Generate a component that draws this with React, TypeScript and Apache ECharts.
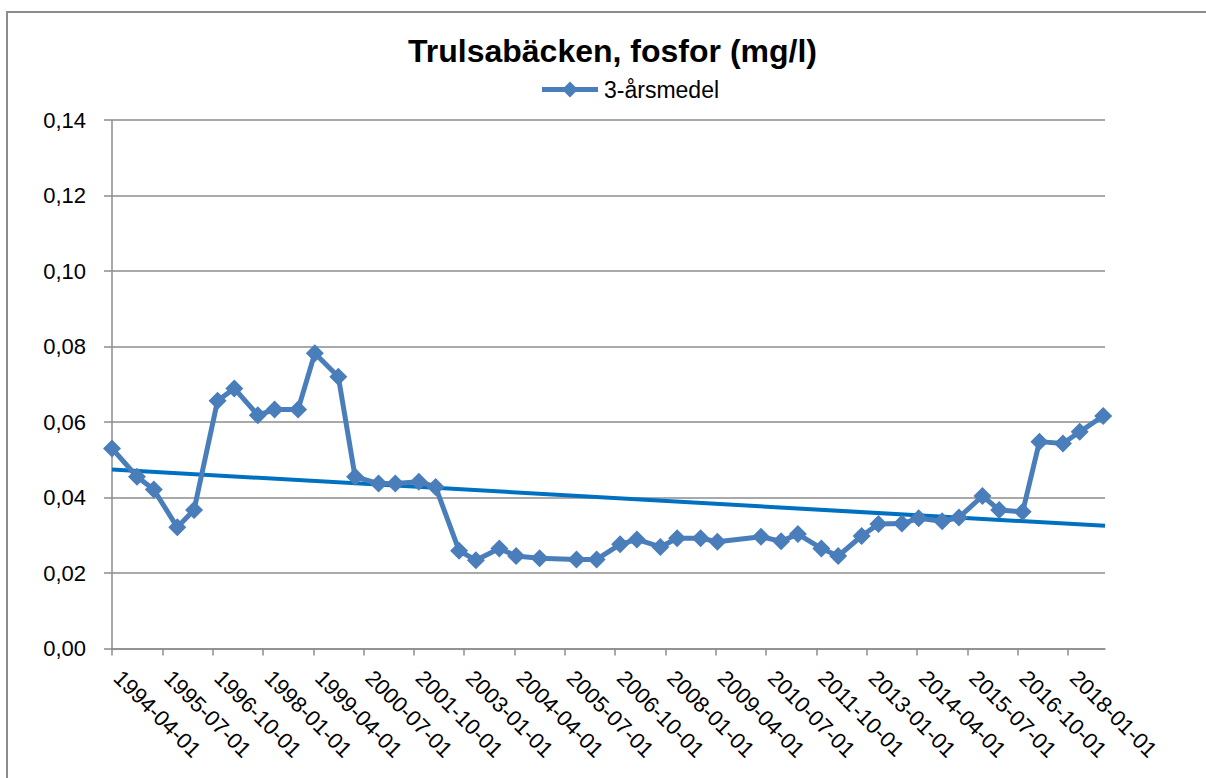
import React, { useEffect, useRef } from "react";
import * as echarts from "echarts";

const titleText = "Trulsabäcken, fosfor (mg/l)";
const seriesName = "3-årsmedel";

const sampleDates = [
  "1994-04-01", "1994-11-15", "1995-04-15", "1995-11-15", "1996-04-15", "1996-11-15",
  "1997-04-15", "1997-11-15", "1998-04-15", "1998-11-15", "1999-04-15", "1999-11-15",
  "2000-04-15", "2000-11-15", "2001-04-15", "2001-11-15", "2002-04-15", "2002-11-15",
  "2003-04-15", "2003-11-15", "2004-04-15", "2004-11-15", "2005-10-15", "2006-04-15",
  "2006-11-15", "2007-04-15", "2007-11-15", "2008-04-15", "2008-11-15", "2009-04-15",
  "2010-05-15", "2010-11-15", "2011-04-15", "2011-11-15", "2012-04-15", "2012-11-15",
  "2013-04-15", "2013-11-15", "2014-04-15", "2014-11-15", "2015-04-15", "2015-11-15",
  "2016-04-15", "2016-11-15", "2017-04-15", "2017-11-15", "2018-04-15", "2018-11-15",
];

const phosphorus = [
  0.053, 0.0455, 0.0421, 0.0321, 0.0367, 0.0656,
  0.0689, 0.0618, 0.0633, 0.0633, 0.0782, 0.072,
  0.0455, 0.0437, 0.0437, 0.0442, 0.0428, 0.0259,
  0.0234, 0.0265, 0.0245, 0.0239, 0.0236, 0.0236,
  0.0276, 0.0289, 0.0269, 0.0292, 0.0292, 0.0283,
  0.0296, 0.0284, 0.0303, 0.0265, 0.0245, 0.0298,
  0.033, 0.0331, 0.0345, 0.0337, 0.0347, 0.0404,
  0.0367, 0.0362, 0.0548, 0.0543, 0.0574, 0.0616,
];

const tickLabels = [
  "1994-04-01", "1995-07-01", "1996-10-01", "1998-01-01", "1999-04-01",
  "2000-07-01", "2001-10-01", "2003-01-01", "2004-04-01", "2005-07-01",
  "2006-10-01", "2008-01-01", "2009-04-01", "2010-07-01", "2011-10-01",
  "2013-01-01", "2014-04-01", "2015-07-01", "2016-10-01", "2018-01-01",
];

const axisStart = "1994-04-01";
const axisEnd = "2018-12-01";
const trendDates = ["1994-04-01", "2018-12-01"];
const trendValues = [0.0474, 0.0325];

const yMin = 0;
const yMax = 0.14;
const yStep = 0.02;

function monthIndex(d: string): number {
  const [y, m, day] = d.split("-").map(Number);
  const [y0, m0] = axisStart.split("-").map(Number);
  return (y - y0) * 12 + (m - m0) + (day - 1) / 30.4;
}

const FONT = "Liberation Sans, Arial, sans-serif";
const GRAY = "#8c8c8c";
const BLUE = "#4a7ebb";
const LEGEND_ICON =
  "path://M0,5.5 L22.5,5.5 L28,0 L33.5,5.5 L56,5.5 L56,10.5 L33.5,10.5 L28,16 L22.5,10.5 L0,10.5 Z";

export default function App() {
  const ref = useRef<HTMLDivElement>(null);
  useEffect(() => {
    if (!ref.current) return;
    const chart = echarts.init(ref.current, undefined, { renderer: "svg" });
    const tickPos = tickLabels.map(monthIndex);
    const labelFor = (v: number) => {
      let best = 0;
      for (let i = 1; i < tickPos.length; i++) {
        if (Math.abs(tickPos[i] - v) < Math.abs(tickPos[best] - v)) best = i;
      }
      return Math.abs(tickPos[best] - v) < 0.5 ? tickLabels[best] : "";
    };
    chart.setOption({
      animation: false,
      backgroundColor: "#ffffff",
      textStyle: { fontFamily: FONT },
      title: {
        text: titleText,
        left: 408,
        top: 35,
        padding: 0,
        textStyle: { fontFamily: FONT, fontSize: 32, fontWeight: "bold", color: "#000" },
      },
      legend: {
        data: [{ name: seriesName, icon: LEGEND_ICON }],
        left: 542,
        top: 78,
        padding: 0,
        itemWidth: 56,
        itemHeight: 16,
        itemGap: 4,
        textStyle: { fontFamily: FONT, fontSize: 23, color: "#000", padding: [0, 0, 0, 1] },
      },
      grid: { left: 112, top: 120, width: 993, height: 528.5, containLabel: false },
      xAxis: {
        type: "value",
        min: monthIndex(axisStart),
        max: monthIndex(axisEnd),
        splitLine: { show: false },
        axisLine: { show: true, lineStyle: { color: GRAY, width: 1.5 } },
        axisTick: { show: true, length: 7, customValues: tickPos, lineStyle: { color: GRAY, width: 1.5 } },
        axisLabel: {
          customValues: tickPos,
          rotate: -45,
          margin: 20,
          padding: [0, 0, 0, 8],
          fontFamily: FONT,
          fontSize: 22,
          color: "#000",
          formatter: (v: number) => labelFor(v),
        },
      },
      yAxis: {
        type: "value",
        min: yMin,
        max: yMax,
        interval: yStep,
        axisLine: { show: true, lineStyle: { color: GRAY, width: 1.5 } },
        axisTick: { show: true, length: 8, lineStyle: { color: GRAY, width: 1.5 } },
        splitLine: { show: true, lineStyle: { color: GRAY, width: 1.5 } },
        axisLabel: {
          margin: 26,
          fontFamily: FONT,
          fontSize: 22,
          color: "#000",
          formatter: (v: number) => v.toFixed(2).replace(".", ","),
        },
      },
      series: [
        {
          name: "Linjär trend",
          type: "line",
          data: trendDates.map((d, i) => [monthIndex(d), trendValues[i]]),
          showSymbol: false,
          symbol: "none",
          lineStyle: { color: "#0070C0", width: 4 },
          z: 2,
          silent: true,
        },
        {
          name: seriesName,
          type: "line",
          data: sampleDates.map((d, i) => [monthIndex(d), phosphorus[i]]),
          symbol: "diamond",
          symbolSize: 18,
          itemStyle: { color: BLUE },
          lineStyle: { color: BLUE, width: 5 },
          z: 3,
        },
      ],
      graphic: [
        {
          type: "polyline",
          shape: { points: [[7, 778], [7, 12], [1206, 12]] },
          style: { stroke: GRAY, lineWidth: 2, fill: "none" },
          silent: true,
        },
      ],
    });
    return () => chart.dispose();
  }, []);
  return (
    <div
      ref={ref}
      style={{ position: "absolute", left: 0, top: 0, width: 1206, height: 778 }}
    />
  );
}
